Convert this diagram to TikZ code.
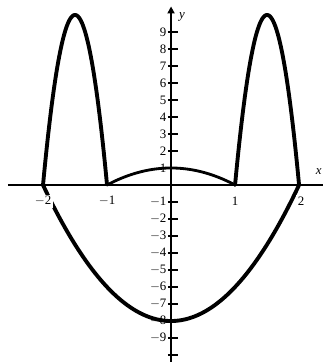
\documentclass[tikz,border=0pt]{standalone}
\usepackage{fontspec}
\setmainfont{Liberation Serif}
\usetikzlibrary{arrows.meta}
\tikzset{
  curve/.style={line width=3.3pt, line cap=round, line join=round},
  ticklab/.style={font=\fontsize{11}{12}\selectfont, inner sep=1pt},
  xlab/.style={font=\fontsize{11}{12}\selectfont, fill=white, inner sep=1.5pt},
}

\begin{document}
\begin{tikzpicture}[x=1.92cm, y=0.51cm]
\useasboundingbox (-2.672,-10.41) rectangle (2.375,10.88);
\clip (-2.672,-10.41) rectangle (2.375,10.88);

% Curves
\draw[curve, domain=-2:-1, samples=60] plot (\x, {-40*(\x+1)*(\x+2)});
\draw[curve, domain=1:2, samples=60] plot (\x, {-40*(\x-1)*(\x-2)});
\draw[curve, line width=2.4pt, domain=-1:1, samples=60] plot (\x, {1-\x*\x});
\draw[curve, domain=-2:2, samples=80] plot (\x, {2*\x*\x-8});

% Axes
\draw[line width=1.1pt] (-2.55,0) -- (2.375,0);
\draw[line width=2.2pt, -{Triangle[length=6pt, width=6pt]}] (0,-10.41) -- (0,10.5);

% Ticks on y
\foreach \k in {-10,...,-1,1,2,...,9}
  \draw[line width=1.7pt] (-0.05,\k) -- (0.11,\k);
\foreach \k in {1,...,9}
  \node[ticklab, anchor=east] (ylab\k) at (-0.05,\k) {\k};
\foreach \k in {1,...,9}
  \node[ticklab, anchor=east] (ylabm\k) at (-0.05,-\k) {$-$\k};

% Labels on x
\node[xlab] (xlabm2) at (-2,-0.95) {$-$2};
\node[xlab] (xlabm1) at (-1,-0.95) {$-$1};
\node[xlab] (xlab1) at (1,-0.95) {1};
\node[xlab] (xlab2) at (2.03,-0.95) {2};

% Axis names
\node[font=\fontsize{11}{12}\selectfont\itshape] (yname) at (0.17,9.9) {y};
\node[font=\fontsize{11}{12}\selectfont\itshape, anchor=east, inner sep=1pt] (xname) at (2.375,0.8) {x};

\end{tikzpicture}
\end{document}
